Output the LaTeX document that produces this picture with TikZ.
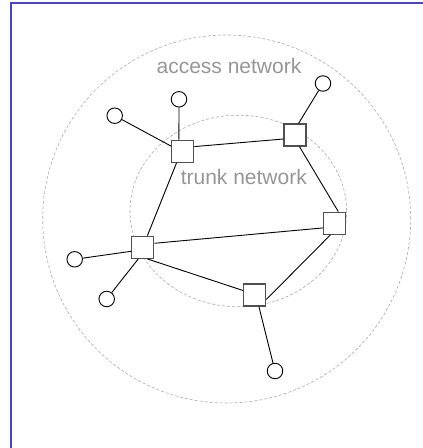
\documentclass[tikz,border=0pt]{standalone}
\usepackage{fontspec}
\setmainfont{Liberation Sans}
\definecolor{framecol}{RGB}{68,68,204}
\definecolor{labelcol}{RGB}{150,150,150}
\definecolor{zonecol}{RGB}{170,170,170}
\definecolor{switchcol}{RGB}{80,80,80}
\begin{document}
\begin{tikzpicture}[x=1pt,y=1pt,
  switch/.style={draw=switchcol,line width=1.3pt,fill=white,rectangle,minimum width=22pt,minimum height=22pt,inner sep=0pt},
  host/.style={draw=black,line width=0.9pt,fill=white,circle,minimum size=15.5pt,inner sep=0pt},
  link/.style={draw=black,line width=0.9pt},
  zone/.style={draw=zonecol,line width=0.6pt,dash pattern=on 3pt off 2pt},
  zonelabel/.style={text=labelcol,font=\fontsize{21}{24}\selectfont,anchor=base,inner sep=0pt}]
\useasboundingbox (0,0) rectangle (423,448);
% frame
\draw[framecol,line width=1.3pt] (11,-12) -- (11,445) -- (430,445);
% network zones
\draw[zone] (226.7,229) circle [radius=184pt];
\draw[zone] (238.3,237) ellipse [x radius=108.3pt, y radius=95.8pt];
\node[zonelabel] (accesslbl) at (229,374) {access network};
\node[zonelabel] (trunklbl) at (243.8,263.7) {trunk network};
% switches
\node[switch] (S1) at (182.7,296.7) {};
\node[switch] (S2) at (295,313) {};
\node[switch] (S3) at (334.7,224.8) {};
\node[switch] (S4) at (142.7,200.7) {};
\node[switch] (S5) at (254.7,153) {};
% hosts
\node[host] (C1) at (179,348.7) {};
\node[host] (C2) at (114.7,332.3) {};
\node[host] (C3) at (323,364.5) {};
\node[host] (C4) at (74.7,188.7) {};
\node[host] (C5) at (106.7,149) {};
\node[host] (C6) at (275,77) {};
% trunk links
\draw[link] (S1.22) -- (S2.199);
\draw[link] (S2.291) -- (S3.73);
\draw[link] (S1.242) -- (S4.68);
\draw[link] (S4.19) -- (S3.202);
\draw[link] (S4.292) -- (S5.159);
\draw[link] (S5.339) -- (S3.250);
% access links
\draw[link] (C1) -- (S1.108);
\draw[link] (C2) -- (S1.156);
\draw[link] (S2.73) -- (C3);
\draw[link] (S4.199) -- (C4);
\draw[link] (S4.249) -- (C5);
\draw[link] (S5.290) -- (C6);
\end{tikzpicture}
\end{document}
